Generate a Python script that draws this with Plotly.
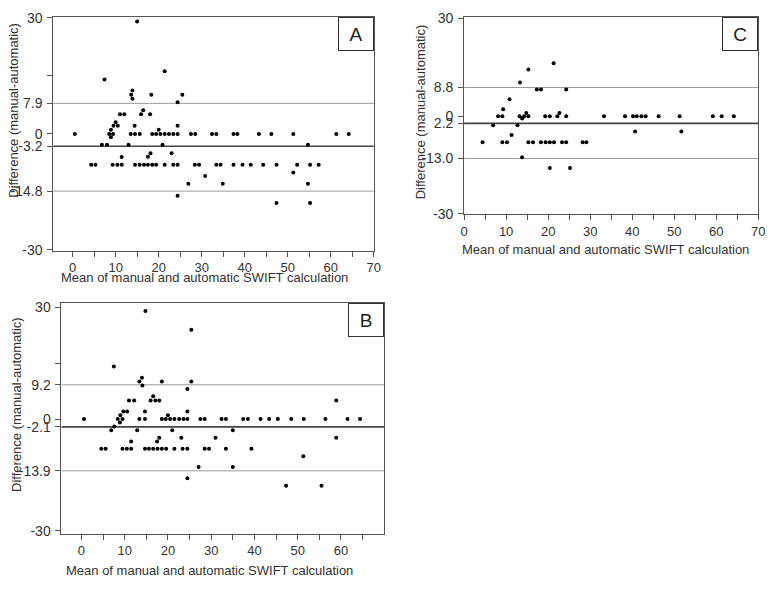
import plotly.graph_objects as go

# Bland-Altman style panels: (mean of methods, difference) points
a_points = [
    (0.5, 0), (15.0, 29.1), (21.4, 16.2), (7.4, 14.1), (13.9, 11.2), (13.6, 10.1), (13.9, 9.1),
    (18.3, 10.1), (25.5, 10.1), (24.4, 8.2),
    (11.0, 5.1), (12.0, 5.1), (16.4, 6.1), (15.9, 5.1), (18.0, 5.1), (10.0, 3.0),
    (9.5, 2.1), (10.5, 2.1), (14.4, 2.1), (24.4, 2.1), (8.9, 1.1), (20.0, 1.1),
    (8.5, 0), (9.4, 0), (8.9, -0.9),
    (13.5, 0), (14.5, 0), (15.6, 0), (18.5, 0), (19.4, 0), (20.4, 0), (21.4, 0), (22.4, 0),
    (23.4, 0), (24.4, 0), (27.5, 0), (28.5, 0), (32.4, 0), (33.4, 0), (37.4, 0), (38.3, 0),
    (43.3, 0), (46.2, 0), (51.3, 0), (61.3, 0), (64.2, 0),
    (6.8, -2.8), (8.0, -2.8), (13.0, -2.8), (20.9, -2.8), (54.7, -2.8),
    (23.0, -5.0), (18.1, -5.0), (17.5, -5.9), (11.4, -6.0),
    (4.3, -8), (5.3, -8), (9.3, -8), (10.4, -8), (11.4, -8), (14.5, -8), (15.6, -8), (16.6, -8),
    (17.5, -8), (18.5, -8), (19.4, -8), (21.4, -8), (23.4, -8), (24.4, -8), (28.4, -8), (29.4, -8),
    (33.4, -8), (34.4, -8), (37.4, -8), (39.5, -8), (41.4, -8), (44.3, -8), (47.4, -8), (52.2, -8),
    (55.2, -8), (57.2, -8),
    (30.8, -10.9), (26.9, -12.9), (34.9, -12.9), (24.4, -16.0), (51.3, -10.0), (54.7, -12.9),
    (47.4, -17.9), (55.2, -17.9),
]

b_points = [
    (0.6, 0), (14.8, 29.0), (25.4, 24.0), (7.5, 14.1), (14.0, 11.1), (13.4, 10.1), (14.1, 9.0),
    (18.6, 10.1), (25.4, 10.1), (24.5, 8.1),
    (11.0, 5.0), (12.2, 5.0), (16.6, 6.1), (16.0, 5.0), (17.1, 5.0), (18.0, 5.0),
    (9.7, 2.0), (10.6, 2.0), (14.7, 2.0), (24.5, 2.0), (9.0, 1.0), (20.0, 1.0), (58.9, 5.0),
    (8.4, 0), (9.5, 0), (8.9, -0.9), (13.4, 0), (14.7, 0), (18.6, 0), (19.5, 0), (20.5, 0),
    (21.5, 0), (22.6, 0), (23.6, 0), (24.5, 0), (27.5, 0), (28.5, 0), (32.4, 0), (33.4, 0),
    (37.4, 0), (38.5, 0), (41.4, 0), (43.4, 0), (45.4, 0), (48.5, 0), (51.4, 0), (56.4, 0),
    (61.5, 0), (64.4, 0),
    (6.9, -3.0), (7.6, -2.0), (12.9, -3.0), (21.0, -3.0), (35.0, -3.0),
    (23.1, -5.0), (18.0, -5.0), (17.5, -6.0), (11.5, -6.0), (31.0, -5.0), (58.9, -5.0),
    (4.6, -8), (5.6, -8), (9.5, -8), (10.5, -8), (11.5, -8), (14.7, -8), (15.6, -8), (16.6, -8),
    (17.6, -8), (18.6, -8), (19.6, -8), (21.5, -8), (23.4, -8), (24.5, -8), (28.5, -8), (29.5, -8),
    (33.4, -8), (39.3, -8),
    (27.1, -12.9), (24.5, -15.9), (35.0, -12.9), (51.3, -10.0), (47.3, -17.9), (55.5, -17.9),
]

c_points = [
    (21.3, 16.2), (15.3, 14.3), (13.3, 10.3), (17.3, 8.2), (18.3, 8.2), (24.3, 8.2),
    (10.8, 5.2), (9.3, 2.1),
    (8.1, 0), (9.1, 0), (13.2, 0), (13.8, -0.7), (14.3, 0), (14.8, 1.0), (15.3, 0),
    (19.3, 0), (20.4, 0), (22.2, 0), (22.7, 1.0), (24.3, 0),
    (33.3, 0), (38.3, 0), (40.2, 0), (41.1, 0), (42.2, 0), (43.2, 0), (46.3, 0), (51.3, 0),
    (59.2, 0), (61.3, 0), (64.2, 0),
    (40.7, -4.7), (51.7, -4.7), (6.9, -2.8), (12.7, -2.8), (11.3, -5.8),
    (4.4, -8), (9.1, -8), (10.2, -8), (15.3, -8), (16.4, -8), (18.3, -8), (19.4, -8), (20.4, -8),
    (21.4, -8), (23.3, -8), (24.3, -8), (28.2, -8), (29.1, -8),
    (13.8, -12.6), (20.4, -15.9), (25.2, -15.9),
]

# mean difference and limits of agreement per panel
a_lines = {"mean": -3.2, "upper": 7.9, "lower": -14.8}
b_lines = {"mean": -2.1, "upper": 9.2, "lower": -13.9}
c_lines = {"mean": -2.2, "upper": 8.8, "lower": -13.0}

a_yticks = [30, 15, 7.9, 0, -3.2, -14.8, -30]
a_ytext = ["30", "", "7.9", "0", "-3.2", "-14.8", "-30"]
b_yticks = [30, 15, 9.2, 0, -2.1, -13.9, -30]
b_ytext = ["30", "", "9.2", "0", "-2.1", "-13.9", "-30"]
c_yticks = [30, 8.8, 0, -2.2, -13.0, -30]
c_ytext = ["30", "8.8", "0", "2.2", "-13.0", "-30"]

a_xticks = [0, 5, 10, 15, 20, 25, 30, 35, 40, 45, 50, 55, 60, 65, 70]
a_xtext = ["0", "", "10", "", "20", "", "30", "", "40", "", "50", "", "60", "", "70"]
b_xticks = [0, 5, 10, 15, 20, 25, 30, 35, 40, 45, 50, 55, 60, 65]
b_xtext = ["0", "", "10", "", "20", "", "30", "", "40", "", "50", "", "60", ""]
c_xticks = a_xticks
c_xtext = a_xtext

x_title = "Mean of manual and automatic SWIFT calculation"
y_title = "Difference (manual-automatic)"

FONT = "Liberation Sans, Arial, sans-serif"
TXT = "#333333"
AXC = "#555555"

W, H = 780, 589


def px(x):
    return x / W


def py(y):
    return 1 - y / H


fig = go.Figure()

panels = [
    # label, points, lines, axis suffix, x domain, y domain, x range, y range, ticks
    ("A", a_points, a_lines, "", [px(50), px(375)], [py(250), py(10)], [-4.5, 70], [-30.2, 30.3],
     a_xticks, a_xtext, a_yticks, a_ytext),
    ("C", c_points, c_lines, "2", [px(466.7), px(765)], [py(212.7), py(10)], [0, 70], [-30.1, 30.5],
     c_xticks, c_xtext, c_yticks, c_ytext),
    ("B", b_points, b_lines, "3", [px(58.3), px(385.7)], [py(540.5), py(304)], [-4.6, 70], [-30.8, 31.1],
     b_xticks, b_xtext, b_yticks, b_ytext),
]

for lab, pts, lines, s, xd, yd, xr, yr, xtv, xtt, ytv, ytt in panels:
    fig.add_trace(go.Scatter(
        x=[p[0] for p in pts], y=[p[1] for p in pts],
        mode="markers", marker=dict(color="black", size=4),
        xaxis="x" + s, yaxis="y" + s, showlegend=False, hoverinfo="x+y",
    ))

    axis_common = dict(
        showline=True, linecolor=AXC, linewidth=1, mirror=True,
        ticks="outside", ticklen=5, tickcolor=AXC, tickwidth=1,
        showgrid=False, zeroline=False, ticklabeloverflow="allow",
    )
    fig.update_layout(**{
        "xaxis" + s: dict(axis_common, domain=xd, range=xr, anchor="y" + s,
                          tickmode="array", tickvals=xtv, ticktext=xtt,
                          tickfont=dict(family=FONT, size=13, color=TXT)),
        "yaxis" + s: dict(axis_common, domain=yd, range=yr, anchor="x" + s,
                          tickmode="array", tickvals=ytv, ticktext=ytt, ticklabelstandoff=2,
                          tickfont=dict(family=FONT, size=14, color=TXT)),
    })

    # reference lines: limits of agreement in grey, mean in dark
    for key in ["upper", "lower", "mean"]:
        is_mean = key == "mean"
        fig.add_shape(
            type="line", xref="x%s domain" % s, yref="y" + s,
            x0=0, x1=1, y0=lines[key], y1=lines[key],
            line=dict(color="#444444" if is_mean else "#9a9a9a", width=1.6 if is_mean else 1),
            layer="below",
        )

    # panel letter box
    fig.add_annotation(
        text=lab, xref="x%s domain" % s, yref="y%s domain" % s, x=1, y=1,
        xanchor="right", yanchor="top", showarrow=False,
        width=34, height=32, borderpad=0, bordercolor="#333333", borderwidth=1,
        bgcolor="white", font=dict(family=FONT, size=19, color="#222222"),
    )

# axis titles (placed to match the original layout)
title_font = dict(family=FONT, size=13, color=TXT)
for xp, yp in [(203, 277.5), (610.5, 248.5), (208, 578)]:
    fig.add_annotation(text=x_title, xref="paper", yref="paper", x=px(xp), y=py(yp),
                       xanchor="center", yanchor="middle", showarrow=False, font=title_font)
for xp, yp in [(10, 105.5), (422, 108), (12.5, 408)]:
    fig.add_annotation(text=y_title, xref="paper", yref="paper", x=px(xp), y=py(yp),
                       xanchor="center", yanchor="middle", textangle=-90,
                       showarrow=False, font=title_font)

fig.update_layout(
    width=W, height=H,
    margin=dict(l=0, r=0, t=0, b=0),
    paper_bgcolor="white", plot_bgcolor="white",
    showlegend=False,
)

# drop the default 8px body margin so the figure fills the window exactly
fig.write_html("out.html", config={"displayModeBar": False},
               post_script="document.body.style.margin='0';")
